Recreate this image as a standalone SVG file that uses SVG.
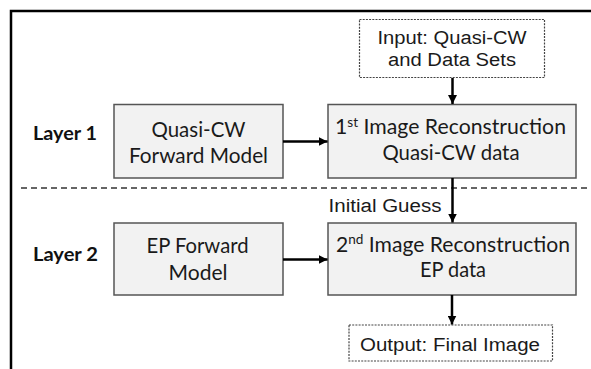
<svg xmlns="http://www.w3.org/2000/svg" width="591" height="369" viewBox="0 0 591 369">
<style>
.box{fill:#f2f2f2;stroke:#555;stroke-width:1.5}
.dbox{fill:#fff;stroke:#444;stroke-width:1.2;stroke-dasharray:2 1.2}
.c{font-family:Lato,"Liberation Sans",sans-serif;font-size:21px;fill:#1a1a1a;text-anchor:middle}
.a{font-family:"Liberation Sans",Arial,sans-serif;font-size:18px;fill:#1a1a1a;text-anchor:middle}
.lbl{font-family:Lato,"Liberation Sans",sans-serif;font-size:18.5px;font-weight:bold;fill:#111}
.conn{stroke:#000;stroke-width:2.5;fill:none;marker-end:url(#ah)}
</style>
<defs>
<marker id="ah" viewBox="0 0 10 10" refX="10" refY="5" markerWidth="3.6" markerHeight="3.6" orient="auto" markerUnits="strokeWidth">
<path d="M0,0 L10,5 L0,10 z" fill="#000"/>
</marker>
</defs>
<rect width="591" height="369" fill="#fff"/>
<g id="frame">
<path d="M11,369 V11 H591" fill="none" stroke="#000" stroke-width="2.5"/>
<path d="M21,188 H591" stroke="#333" stroke-width="1.3" stroke-dasharray="6 4"/>
</g>
<g id="layer1"><text class="lbl" x="33" y="139.5" textLength="64" lengthAdjust="spacingAndGlyphs">Layer 1</text></g>
<g id="layer2"><text class="lbl" x="33" y="260.5" textLength="65" lengthAdjust="spacingAndGlyphs">Layer 2</text></g>
<g id="input">
<rect class="dbox" x="359.5" y="19.5" width="185" height="58"/>
<text class="a" x="452" y="43.5" textLength="149" lengthAdjust="spacingAndGlyphs">Input: Quasi-CW</text>
<text class="a" x="452" y="65.5" textLength="128" lengthAdjust="spacingAndGlyphs">and Data Sets</text>
</g>
<g id="quasi-fwd">
<rect class="box" x="114" y="104.5" width="169" height="73.5"/>
<text class="c" x="198.5" y="136.5" textLength="94" lengthAdjust="spacingAndGlyphs">Quasi-CW</text>
<text class="c" x="198.5" y="162.5" textLength="139" lengthAdjust="spacingAndGlyphs">Forward Model</text>
</g>
<g id="recon1">
<rect class="box" x="328" y="104.5" width="248" height="73.5"/>
<text class="c" x="450.5" y="134" textLength="231" lengthAdjust="spacingAndGlyphs">1<tspan font-size="13.5" dy="-7.5">st</tspan><tspan dy="7.5"> Image Reconstruction</tspan></text>
<text class="c" x="451" y="160" textLength="137" lengthAdjust="spacingAndGlyphs">Quasi-CW data</text>
</g>
<g id="ep-fwd">
<rect class="box" x="114" y="223" width="169" height="72"/>
<text class="c" x="197.5" y="252.5" textLength="102" lengthAdjust="spacingAndGlyphs">EP Forward</text>
<text class="c" x="198" y="279.5" textLength="59" lengthAdjust="spacingAndGlyphs">Model</text>
</g>
<g id="recon2">
<rect class="box" x="328" y="223" width="248" height="72"/>
<text class="c" x="453" y="251.5" textLength="234" lengthAdjust="spacingAndGlyphs">2<tspan font-size="13.5" dy="-7.5">nd</tspan><tspan dy="7.5"> Image Reconstruction</tspan></text>
<text class="c" x="453" y="277" textLength="66" lengthAdjust="spacingAndGlyphs">EP data</text>
</g>
<g id="output">
<rect class="dbox" x="349" y="325" width="203.5" height="36"/>
<text class="a" x="450" y="351" textLength="180" lengthAdjust="spacingAndGlyphs">Output: Final Image</text>
</g>
<g id="connectors">
<path class="conn" d="M452.5,78 V104"/>
<path class="conn" d="M283,141.5 H327.5"/>
<path class="conn" d="M452.5,178 V222.5"/>
<text class="a" x="385" y="211.5" textLength="113" lengthAdjust="spacingAndGlyphs">Initial Guess</text>
<path class="conn" d="M283,259.5 H327.5"/>
<path class="conn" d="M452,295 V324.5"/>
</g>
</svg>
